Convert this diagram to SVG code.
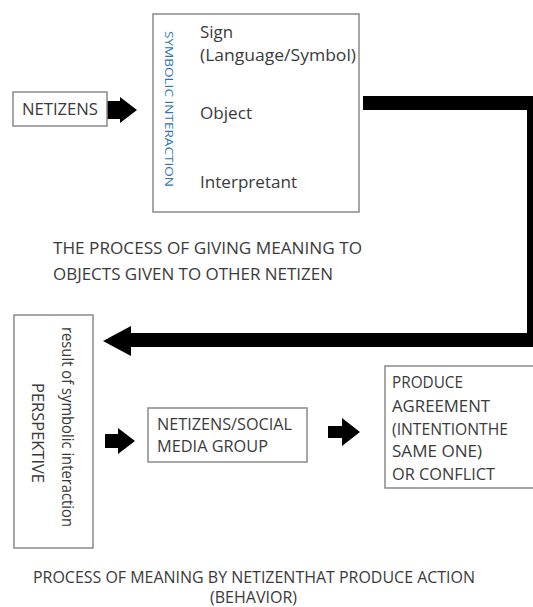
<svg xmlns="http://www.w3.org/2000/svg" width="533" height="607" viewBox="0 0 533 607">
<style>
.box{fill:#fff;stroke:#8a8a8a;stroke-width:1.5}
.t{font-family:"Open Sans","Noto Sans",sans-serif;font-size:16px;fill:#3a3a3a}
.blue{font-family:"Open Sans","Noto Sans",sans-serif;font-size:10.5px;fill:#2e75b6}
.arrow{fill:#000}
.conn{fill:none;stroke:#000;stroke-width:14}
</style>
<rect width="533" height="607" fill="#fff"/>
<g id="connectors">
<polygon class="arrow" points="107,101 120,101 120,97 137,110 120,123 120,119 107,119"/>
<path class="conn" d="M363,103 H534 V340 H128"/>
<polygon class="arrow" points="103,341 131,326 131,356"/>
<polygon class="arrow" points="105,434 118,434 118,428 135,441 118,454 118,448 105,448"/>
<polygon class="arrow" points="328,426 342,426 342,418 360,432 342,446 342,438 328,438"/>
</g>
<g id="netizens">
<rect class="box" x="13" y="92" width="94" height="34"/>
<text class="t" x="22" y="115" textLength="76" lengthAdjust="spacingAndGlyphs">NETIZENS</text>
</g>
<g id="symbolic">
<rect class="box" x="153" y="14" width="206" height="198"/>
<text class="blue" transform="translate(165,31) rotate(90)" textLength="156" lengthAdjust="spacingAndGlyphs">SYMBOLIC INTERACTION</text>
<text class="t" x="200" y="38" textLength="33" lengthAdjust="spacingAndGlyphs">Sign</text>
<text class="t" x="200" y="61" textLength="156" lengthAdjust="spacingAndGlyphs">(Language/Symbol)</text>
<text class="t" x="200" y="119" textLength="52" lengthAdjust="spacingAndGlyphs">Object</text>
<text class="t" x="200" y="188" textLength="97" lengthAdjust="spacingAndGlyphs">Interpretant</text>
</g>
<g id="label1">
<text class="t" x="53" y="254" textLength="309" lengthAdjust="spacingAndGlyphs">THE PROCESS OF GIVING MEANING TO</text>
<text class="t" x="53" y="280" textLength="280" lengthAdjust="spacingAndGlyphs">OBJECTS GIVEN TO OTHER NETIZEN</text>
</g>
<g id="perspective">
<rect class="box" x="14" y="315" width="79" height="233"/>
<text class="t" font-size="13.5" transform="translate(62,327) rotate(90)" textLength="200" lengthAdjust="spacingAndGlyphs">result of symbolic interaction</text>
<text class="t" transform="translate(32,383) rotate(90)" textLength="100" lengthAdjust="spacingAndGlyphs">PERSPEKTIVE</text>
</g>
<g id="group">
<rect class="box" x="148" y="408" width="159" height="54"/>
<text class="t" x="157" y="430" textLength="135" lengthAdjust="spacingAndGlyphs">NETIZENS/SOCIAL</text>
<text class="t" x="157" y="452" textLength="111" lengthAdjust="spacingAndGlyphs">MEDIA GROUP</text>
</g>
<g id="produce">
<rect class="box" x="385" y="366" width="150" height="122"/>
<text class="t" x="392" y="388" textLength="71" lengthAdjust="spacingAndGlyphs">PRODUCE</text>
<text class="t" x="392" y="412" textLength="98" lengthAdjust="spacingAndGlyphs">AGREEMENT</text>
<text class="t" x="392" y="435" textLength="116" lengthAdjust="spacingAndGlyphs">(INTENTIONTHE</text>
<text class="t" x="392" y="457" textLength="90" lengthAdjust="spacingAndGlyphs">SAME ONE)</text>
<text class="t" x="392" y="480" textLength="103" lengthAdjust="spacingAndGlyphs">OR CONFLICT</text>
</g>
<g id="label2">
<text class="t" x="33" y="583" textLength="442" lengthAdjust="spacingAndGlyphs">PROCESS OF MEANING BY NETIZENTHAT PRODUCE ACTION</text>
<text class="t" x="210" y="603" textLength="87" lengthAdjust="spacingAndGlyphs">(BEHAVIOR)</text>
</g>
</svg>
